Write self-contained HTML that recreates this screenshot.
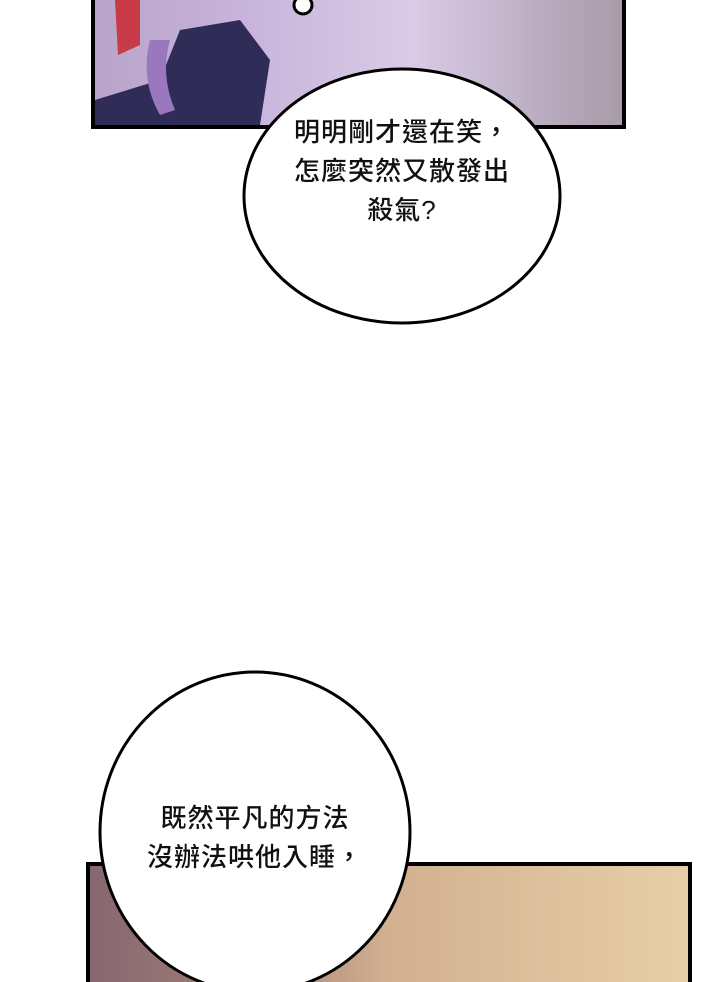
<!DOCTYPE html>
<html><head><meta charset="utf-8"><style>
html,body{margin:0;padding:0;background:#fff;width:720px;height:982px;overflow:hidden;position:relative;font-family:"Liberation Sans","Noto Sans CJK TC",sans-serif;}
.abs{position:absolute}
.t{position:absolute;font-size:26px;font-weight:500;color:#111;white-space:nowrap;text-align:center;line-height:39px;letter-spacing:1px}
</style></head><body>
<svg class="abs" style="left:0;top:0" width="720" height="982">
<defs>
<linearGradient id="g1" x1="0" y1="0" x2="1" y2="0">
<stop offset="0" stop-color="#b8a4c8"/><stop offset="0.3" stop-color="#c9b5dc"/><stop offset="0.6" stop-color="#d9cbe6"/><stop offset="1" stop-color="#a89aa8"/>
</linearGradient>
<linearGradient id="g2" x1="0" y1="0" x2="1" y2="0">
<stop offset="0" stop-color="#86676f"/><stop offset="0.25" stop-color="#a07e78"/><stop offset="0.5" stop-color="#d2b090"/><stop offset="1" stop-color="#e8cfa8"/>
</linearGradient>
</defs>
<rect x="93" y="-4" width="531" height="131" fill="url(#g1)" stroke="#000" stroke-width="4"/>
<path d="M95 100 L95 125 L260 125 L270 60 L240 20 L180 30 L160 80 Z" fill="#302c58"/>
<path d="M115 0 L140 0 L140 45 L118 55 Z" fill="#c83a48"/>
<path d="M150 40 Q140 80 160 115 L175 110 Q160 75 170 40 Z" fill="#9a78c0"/>
<rect x="88" y="864" width="602" height="122" fill="url(#g2)" stroke="#000" stroke-width="4"/>
<ellipse cx="402" cy="196" rx="158" ry="127" fill="#fff" stroke="#000" stroke-width="3"/>
<circle cx="303" cy="5" r="9" fill="#fff" stroke="#000" stroke-width="3"/>
<ellipse cx="255" cy="832" rx="155" ry="160" fill="#fff" stroke="#000" stroke-width="3"/>
</svg>
<div class="t" style="left:252px;top:113px;width:300px">明明剛才還在笑，<br>怎麼突然又散發出<br>殺氣?</div>
<div class="t" style="left:105px;top:799px;width:300px">既然平凡的方法<br>沒辦法哄他入睡，</div>
</body></html>
